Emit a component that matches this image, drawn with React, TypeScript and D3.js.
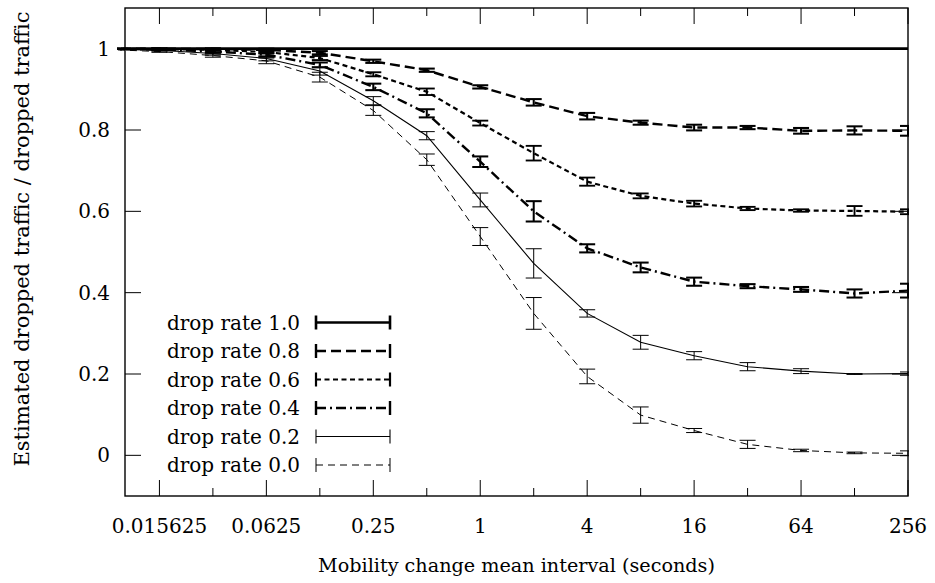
import React from "react";
import * as d3 from "d3";

const xValues = [0.0078125, 0.015625, 0.03125, 0.0625, 0.125, 0.25, 0.5, 1, 2, 4, 8, 16, 32, 64, 128, 256];
const xTickValues = [0.015625, 0.0625, 0.25, 1, 4, 16, 64, 256];
const xMinorTickValues = [0.03125, 0.125, 0.5, 2, 8, 32, 128];
const xTickLabels = ["0.015625", "0.0625", "0.25", "1", "4", "16", "64", "256"];
const yTickValues = [0, 0.2, 0.4, 0.6, 0.8, 1];
const yTickLabels = ["0", "0.2", "0.4", "0.6", "0.8", "1"];

const seriesNames = ["drop rate 1.0", "drop rate 0.8", "drop rate 0.6", "drop rate 0.4", "drop rate 0.2", "drop rate 0.0"];

const rate10 = [1, 1, 1, 1, 1, 1, 1, 1, 1, 1, 1, 1, 1, 1, 1, 1];
const err10 = [0, 0, 0, 0, 0, 0, 0, 0, 0, 0, 0, 0, 0, 0, 0, 0];
const rate08 = [1, 1, 0.999, 0.997, 0.99, 0.969, 0.947, 0.906, 0.868, 0.834, 0.818, 0.806, 0.806, 0.798, 0.799, 0.798];
const err08 = [0, 0.001, 0.002, 0.003, 0.004, 0.004, 0.004, 0.004, 0.008, 0.008, 0.005, 0.007, 0.004, 0.007, 0.01, 0.012];
const rate06 = [1, 0.999, 0.997, 0.992, 0.977, 0.937, 0.894, 0.817, 0.743, 0.673, 0.638, 0.619, 0.607, 0.602, 0.601, 0.599];
const err06 = [0, 0.001, 0.002, 0.004, 0.005, 0.005, 0.008, 0.006, 0.018, 0.01, 0.006, 0.007, 0.004, 0.003, 0.012, 0.006];
const rate04 = [0.999, 0.998, 0.993, 0.985, 0.96, 0.906, 0.841, 0.722, 0.6, 0.509, 0.462, 0.427, 0.416, 0.408, 0.398, 0.405];
const err04 = [0, 0.001, 0.003, 0.005, 0.006, 0.008, 0.01, 0.013, 0.025, 0.01, 0.012, 0.01, 0.005, 0.006, 0.01, 0.017];
const rate02 = [0.999, 0.996, 0.988, 0.976, 0.945, 0.872, 0.786, 0.628, 0.472, 0.349, 0.278, 0.245, 0.218, 0.207, 0.2, 0.201];
const err02 = [0, 0.002, 0.004, 0.006, 0.01, 0.01, 0.01, 0.017, 0.036, 0.009, 0.017, 0.01, 0.01, 0.006, 0.001, 0.004];
const rate00 = [0.998, 0.993, 0.983, 0.97, 0.93, 0.848, 0.727, 0.538, 0.349, 0.194, 0.099, 0.061, 0.027, 0.012, 0.006, 0.005];
const err00 = [0, 0.002, 0.004, 0.007, 0.012, 0.012, 0.014, 0.022, 0.039, 0.018, 0.02, 0.005, 0.01, 0.003, 0.002, 0.006];

const seriesValues = [rate10, rate08, rate06, rate04, rate02, rate00];
const seriesErrors = [err10, err08, err06, err04, err02, err00];

const styles = [
  { w: 2.6, dash: "none" },
  { w: 2.4, dash: "10,5" },
  { w: 2.2, dash: "5,3.5" },
  { w: 2.4, dash: "10,4,2,4" },
  { w: 1.1, dash: "none" },
  { w: 1.0, dash: "7,5" },
];

const W = 935;
const H = 583;
const L = 125, R = 908, T = 8, B = 496;
const FONT = "DejaVu Serif";
const FS = 20;

export default function App() {
  const x = d3.scaleLog().base(2).domain([0.01, 256]).range([L, R]);
  const y = d3.scaleLinear().domain([-0.1, 1.1]).range([B, T]);
  const line = d3
    .line<number>()
    .x((_, i) => x(xValues[i]))
    .y((d) => y(d));

  const legendY0 = 322.5;
  const legendDy = 28.5;

  return (
    <svg
      width={W}
      height={H}
      style={{ position: "absolute", left: 0, top: 0, background: "#fff" }}
    >
      <defs>
        <clipPath id="plotclip">
          <rect x={117} y={T} width={R - 117 + 1} height={B - T} />
        </clipPath>
      </defs>
      <rect x={0} y={0} width={W} height={H} fill="#fff" />

      {/* ticks */}
      {xTickValues.map((v) => (
        <g key={"xt" + v}>
          <line x1={x(v)} x2={x(v)} y1={B} y2={B - 16} stroke="#000" strokeWidth={1} />
          <line x1={x(v)} x2={x(v)} y1={T} y2={T + 16} stroke="#000" strokeWidth={1} />
        </g>
      ))}
      {xMinorTickValues.map((v) => (
        <g key={"xm" + v}>
          <line x1={x(v)} x2={x(v)} y1={B} y2={B - 8} stroke="#000" strokeWidth={1} />
          <line x1={x(v)} x2={x(v)} y1={T} y2={T + 8} stroke="#000" strokeWidth={1} />
        </g>
      ))}
      {yTickValues.map((v) => (
        <g key={"yt" + v}>
          <line x1={L} x2={L + 16} y1={y(v)} y2={y(v)} stroke="#000" strokeWidth={1} />
          <line x1={R} x2={R - 16} y1={y(v)} y2={y(v)} stroke="#000" strokeWidth={1} />
        </g>
      ))}

      {/* tick labels */}
      {xTickValues.map((v, i) => (
        <text key={"xl" + v} x={x(v)} y={533} fontFamily={FONT} fontSize={FS} textAnchor="middle" fill="#000">
          {xTickLabels[i]}
        </text>
      ))}
      {yTickValues.map((v, i) => (
        <text key={"yl" + v} x={110} y={y(v) + 7} fontFamily={FONT} fontSize={FS} textAnchor="end" fill="#000">
          {yTickLabels[i]}
        </text>
      ))}

      {/* series */}
      <g clipPath="url(#plotclip)">
        {seriesValues.map((vals, s) => (
          <g key={"s" + s}>
            <path
              d={line(vals) || ""}
              fill="none"
              stroke="#000"
              strokeWidth={styles[s].w}
              strokeDasharray={styles[s].dash}
            />
            {vals.map((v, i) => {
              const e = seriesErrors[s][i];
              if (s === 0 || i === 0) return null;
              const cx = x(xValues[i]);
              const y1 = y(v - e);
              const y2 = y(v + e);
              const sw = Math.max(1, styles[s].w * 0.85);
              return (
                <g key={"e" + i}>
                  <line x1={cx} x2={cx} y1={y1} y2={y2} stroke="#000" strokeWidth={sw} />
                  <line x1={cx - 8} x2={cx + 8} y1={y1} y2={y1} stroke="#000" strokeWidth={sw} />
                  <line x1={cx - 8} x2={cx + 8} y1={y2} y2={y2} stroke="#000" strokeWidth={sw} />
                </g>
              );
            })}
          </g>
        ))}
      </g>

      {/* frame */}
      <rect x={L} y={T} width={R - L} height={B - T} fill="none" stroke="#000" strokeWidth={1.4} />

      {/* legend */}
      {seriesNames.map((name, s) => {
        const ly = legendY0 + s * legendDy;
        const sw = styles[s].w;
        return (
          <g key={"lg" + s}>
            <text x={300} y={ly + 7} fontFamily={FONT} fontSize={FS} textAnchor="end" fill="#000">
              {name}
            </text>
            <line x1={316} x2={390} y1={ly} y2={ly} stroke="#000" strokeWidth={sw} strokeDasharray={styles[s].dash} />
            <line x1={316} x2={316} y1={ly - 7} y2={ly + 7} stroke="#000" strokeWidth={sw} />
            <line x1={390} x2={390} y1={ly - 7} y2={ly + 7} stroke="#000" strokeWidth={sw} />
          </g>
        );
      })}

      {/* axis titles */}
      <text x={(L + R) / 2} y={572} fontFamily={FONT} fontSize={19.2} textAnchor="middle" fill="#000">
        Mobility change mean interval (seconds)
      </text>
      <text
        transform={`translate(29, 239) rotate(-90)`}
        fontFamily={FONT}
        fontSize={21}
        textAnchor="middle"
        fill="#000"
      >
        Estimated dropped traffic / dropped traffic
      </text>
    </svg>
  );
}
